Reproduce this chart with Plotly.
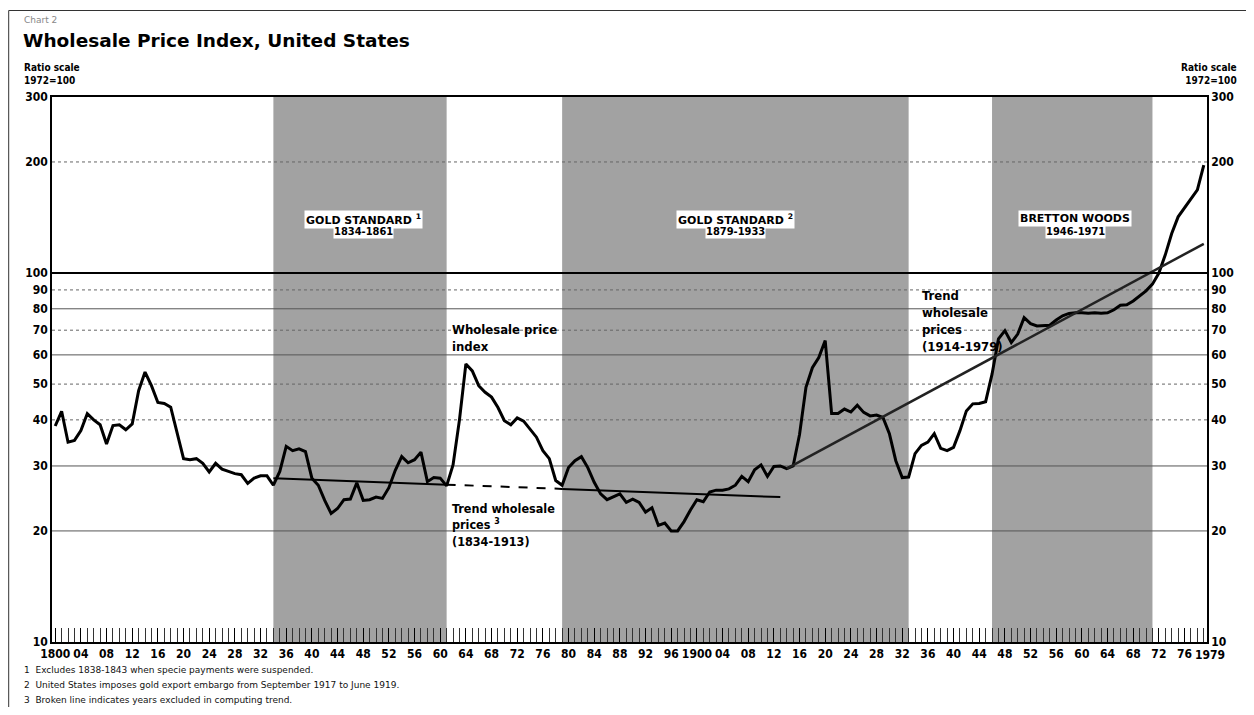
import plotly.graph_objects as go

# ---------------- data (1972=100) ----------------
years = list(range(1800, 1980))
wpi = [
    # 1800-1809
    38.5, 42.2, 34.8, 35.2, 37.4, 41.6, 40.0, 38.8, 34.4, 38.6,
    # 1810-1819
    38.8, 37.6, 39.0, 48.0, 53.9, 49.5, 44.6, 44.3, 43.3, 36.8,
    # 1820-1829
    31.4, 31.2, 31.4, 30.5, 28.9, 30.5, 29.4, 29.0, 28.6, 28.4,
    # 1830-1839
    26.9, 27.8, 28.2, 28.2, 26.6, 29.0, 33.9, 33.0, 33.4, 32.8,
    # 1840-1849
    27.8, 26.6, 24.2, 22.3, 23.0, 24.3, 24.4, 27.0, 24.2, 24.3,
    # 1850-1859
    24.7, 24.5, 26.2, 29.2, 31.8, 30.6, 31.2, 32.7, 27.2, 27.9,
    # 1860-1869
    27.8, 26.5, 30.2, 40.0, 56.7, 54.3, 49.5, 47.5, 46.1, 43.2,
    # 1870-1879
    39.8, 38.8, 40.5, 39.7, 37.8, 35.9, 33.0, 31.4, 27.4, 26.6,
    # 1880-1889
    29.7, 31.0, 31.8, 29.7, 27.1, 25.2, 24.3, 24.7, 25.2, 23.9,
    # 1890-1899
    24.4, 23.9, 22.5, 23.1, 20.7, 21.0, 20.0, 20.0, 21.2, 22.8,
    # 1900-1909
    24.3, 24.0, 25.5, 25.8, 25.8, 26.0, 26.6, 28.1, 27.2, 29.3,
    # 1910-1919
    30.2, 28.1, 29.9, 30.0, 29.5, 30.0, 36.5, 49.0, 55.4, 59.0,
    # 1920-1929
    65.6, 41.6, 41.6, 42.8, 42.0, 43.8, 41.9, 41.0, 41.2, 40.6,
    # 1930-1939
    36.7, 31.0, 27.9, 28.0, 32.4, 34.1, 34.8, 36.7, 33.5, 33.0,
    # 1940-1949
    33.7, 37.4, 42.3, 44.2, 44.3, 44.8, 53.2, 66.3, 69.8, 64.8,
    # 1950-1959
    68.3, 75.7, 72.9, 71.9, 72.2, 72.2, 74.6, 76.6, 77.7, 78.1,
    # 1960-1969
    78.1, 77.8, 78.1, 77.8, 78.0, 79.5, 81.8, 82.0, 84.0, 86.8,
    # 1970-1979
    89.5, 93.3, 100.0, 112.0, 128.0, 142.0, 150.0, 158.0, 168.0, 196.0,
]

# Trend 1834-1913 (solid, broken 1861-1879, solid)
trend1_solid_a_years = [1834, 1861]
trend1_solid_a_vals = [27.8, 26.7]
trend1_broken_years = [1861, 1879]
trend1_broken_vals = [26.7, 26.0]
trend1_solid_b_years = [1879, 1913]
trend1_solid_b_vals = [26.0, 24.7]
# Trend 1914-1979
trend2_years = [1914, 1979]
trend2_vals = [29.5, 120.0]

# Shaded periods
band_starts = [1834, 1879, 1946]
band_ends = [1861, 1933, 1971]
band_names = ["GOLD STANDARD", "GOLD STANDARD", "BRETTON WOODS"]
band_marks = ["1", "2", ""]
band_periods = ["1834-1861", "1879-1933", "1946-1971"]
band_label_x = [1848, 1906, 1959]

# Axis ticks
x_tick_years = list(range(1800, 1977, 4))
x_tick_text = []
for yv in x_tick_years:
    if yv in (1800, 1900):
        x_tick_text.append(str(yv))
    else:
        x_tick_text.append(f"{yv % 100:02d}")
x_last_label = "1979"
y_ticks = [10, 20, 30, 40, 50, 60, 70, 80, 90, 100, 200, 300]
grid_solid = [20, 30, 60, 80]
grid_dotted = [40, 50, 70, 90, 200]

footnotes = [
    "1  Excludes 1838-1843 when specie payments were suspended.",
    "2  United States imposes gold export embargo from September 1917 to June 1919.",
    "3  Broken line indicates years excluded in computing trend.",
]

# ---------------- layout geometry ----------------
# page has an 8px body margin; plot area in page pixels: x 52..1212, y 97..642
BODY = 8
FW, FH = 1238, 699
PL, PT, PWID, PHGT = 52, 97, 1160, 545
L = PL - BODY
T = PT - BODY
R = FW - L - PWID
B = FH - T - PHGT


def px_x(px):
    return (px - PL) / PWID


def px_y(py):
    return (PT + PHGT - py) / PHGT


BOLD = "DejaVu Sans Condensed, DejaVu Sans, sans-serif"

fig = go.Figure()

fig.add_trace(go.Scatter(x=years, y=wpi, mode="lines",
                         line=dict(color="black", width=3), hoverinfo="skip",
                         showlegend=False))
fig.add_trace(go.Scatter(x=trend1_solid_a_years, y=trend1_solid_a_vals, mode="lines",
                         line=dict(color="black", width=2), showlegend=False))
fig.add_trace(go.Scatter(x=trend1_broken_years, y=trend1_broken_vals, mode="lines",
                         line=dict(color="black", width=2, dash="dash"), showlegend=False))
fig.add_trace(go.Scatter(x=trend1_solid_b_years, y=trend1_solid_b_vals, mode="lines",
                         line=dict(color="black", width=2), showlegend=False))
fig.add_trace(go.Scatter(x=trend2_years, y=trend2_vals, mode="lines",
                         line=dict(color="#222", width=2.5), showlegend=False))
fig.add_trace(go.Scatter(x=[years[0]], y=[wpi[0]], yaxis="y2", mode="markers",
                         marker=dict(opacity=0), showlegend=False, hoverinfo="skip"))

shapes = []
for s, e in zip(band_starts, band_ends):
    shapes.append(dict(type="rect", xref="x", yref="paper", x0=s, x1=e, y0=0, y1=1,
                       fillcolor="#a2a2a2", line=dict(width=0), layer="below"))
for g in grid_solid:
    shapes.append(dict(type="line", xref="paper", yref="y", x0=0, x1=1, y0=g, y1=g,
                       line=dict(color="#555", width=1), layer="below"))
for g in grid_dotted:
    shapes.append(dict(type="line", xref="paper", yref="y", x0=0, x1=1, y0=g, y1=g,
                       line=dict(color="#666", width=1, dash="dot"), layer="below"))
shapes.append(dict(type="line", xref="paper", yref="y", x0=0, x1=1, y0=100, y1=100,
                   line=dict(color="black", width=2)))
# page frame (left and top)
shapes.append(dict(type="line", xref="paper", yref="paper", x0=px_x(8.5), x1=px_x(8.5),
                   y0=px_y(10.5), y1=px_y(720), line=dict(color="#333", width=1)))
shapes.append(dict(type="line", xref="paper", yref="paper", x0=px_x(8.5), x1=px_x(1260),
                   y0=px_y(10.5), y1=px_y(10.5), line=dict(color="#333", width=1)))

ann = []
for name, mark, per, xc in zip(band_names, band_marks, band_periods, band_label_x):
    t = name + (f" <sup>{mark}</sup>" if mark else "")
    ann.append(dict(x=xc, y=px_y(210), xref="x", yref="paper", text=t, showarrow=False,
                    bgcolor="white", borderpad=1,
                    font=dict(family="DejaVu Sans", size=11, color="black", weight="bold")))
    ann.append(dict(x=xc, y=px_y(224), xref="x", yref="paper", text=per, showarrow=False,
                    bgcolor="white", borderpad=0,
                    font=dict(family=BOLD, size=11, color="black", weight="bold")))

ann.append(dict(x=1861.6, y=px_y(320), xref="x", yref="paper", xanchor="left", yanchor="top",
                align="left", text="Wholesale price<br>index", showarrow=False,
                font=dict(family=BOLD, size=13, color="black", weight="bold")))
ann.append(dict(x=1861.6, y=px_y(499), xref="x", yref="paper", xanchor="left", yanchor="top",
                align="left", text="Trend wholesale<br>prices <sup>3</sup><br>(1834-1913)",
                showarrow=False,
                font=dict(family=BOLD, size=12.5, color="black", weight="bold")))
ann.append(dict(x=1934.8, y=px_y(286), xref="x", yref="paper", xanchor="left", yanchor="top",
                align="left", text="Trend<br>wholesale<br>prices<br>(1914-1979)",
                showarrow=False,
                font=dict(family=BOLD, size=13, color="black", weight="bold")))

# last x label, placed right of "76"
ann.append(dict(x=px_x(1198), y=px_y(646), xref="paper", yref="paper", xanchor="left",
                yanchor="top", text=x_last_label, showarrow=False,
                font=dict(family=BOLD, size=12, color="black", weight="bold")))

# header texts
ann.append(dict(x=px_x(22), y=px_y(20), xref="paper", yref="paper", xanchor="left",
                yanchor="middle", text="Chart 2", showarrow=False,
                font=dict(family="DejaVu Sans", size=9, color="#888")))
ann.append(dict(x=px_x(21), y=px_y(40), xref="paper", yref="paper", xanchor="left",
                yanchor="middle", text="Wholesale Price Index, United States", showarrow=False,
                font=dict(family="DejaVu Sans", size=18.5, color="black", weight="bold")))
ann.append(dict(x=px_x(22), y=px_y(88), xref="paper", yref="paper", xanchor="left",
                yanchor="bottom", align="left", text="Ratio scale<br>1972=100",
                showarrow=False,
                font=dict(family=BOLD, size=10, color="black", weight="bold")))
ann.append(dict(x=px_x(1244), y=px_y(88), xref="paper", yref="paper", xanchor="right",
                yanchor="bottom", align="right", text="Ratio scale<br>1972=100",
                showarrow=False,
                font=dict(family=BOLD, size=10, color="black", weight="bold")))

for i, fn in enumerate(footnotes):
    ann.append(dict(x=px_x(22), y=px_y(670 + 15 * i), xref="paper", yref="paper",
                    xanchor="left", yanchor="middle", text=fn, showarrow=False,
                    font=dict(family="DejaVu Sans", size=9, color="#111")))

yaxis_common = dict(
    type="log", range=[1, 2.4771], tickvals=y_ticks,
    ticktext=[str(v) for v in y_ticks],
    tickfont=dict(family=BOLD, size=12, color="black", weight="bold"),
    showline=True, linecolor="black", linewidth=1.5, ticks="", zeroline=False,
    showgrid=False,
)

fig.update_layout(
    width=FW, height=FH,
    margin=dict(l=L, r=R, t=T, b=B),
    paper_bgcolor="white", plot_bgcolor="white",
    xaxis=dict(range=[1799.5, 1979.5], tickvals=x_tick_years, ticktext=x_tick_text,
               tickfont=dict(family=BOLD, size=12, color="black", weight="bold"),
               ticks="inside", ticklen=14, tickcolor="black", tickwidth=1,
               minor=dict(dtick=1, tick0=1800, ticks="inside", ticklen=14,
                          tickcolor="#333", tickwidth=1, showgrid=False),
               showline=True, linecolor="black", linewidth=1.5, mirror=True,
               showgrid=False, zeroline=False, tickangle=0),
    yaxis=dict(**yaxis_common, mirror=False),
    yaxis2=dict(**yaxis_common, overlaying="y", side="right"),
    shapes=shapes, annotations=ann, showlegend=False,
)

fig.write_html("out.html")
